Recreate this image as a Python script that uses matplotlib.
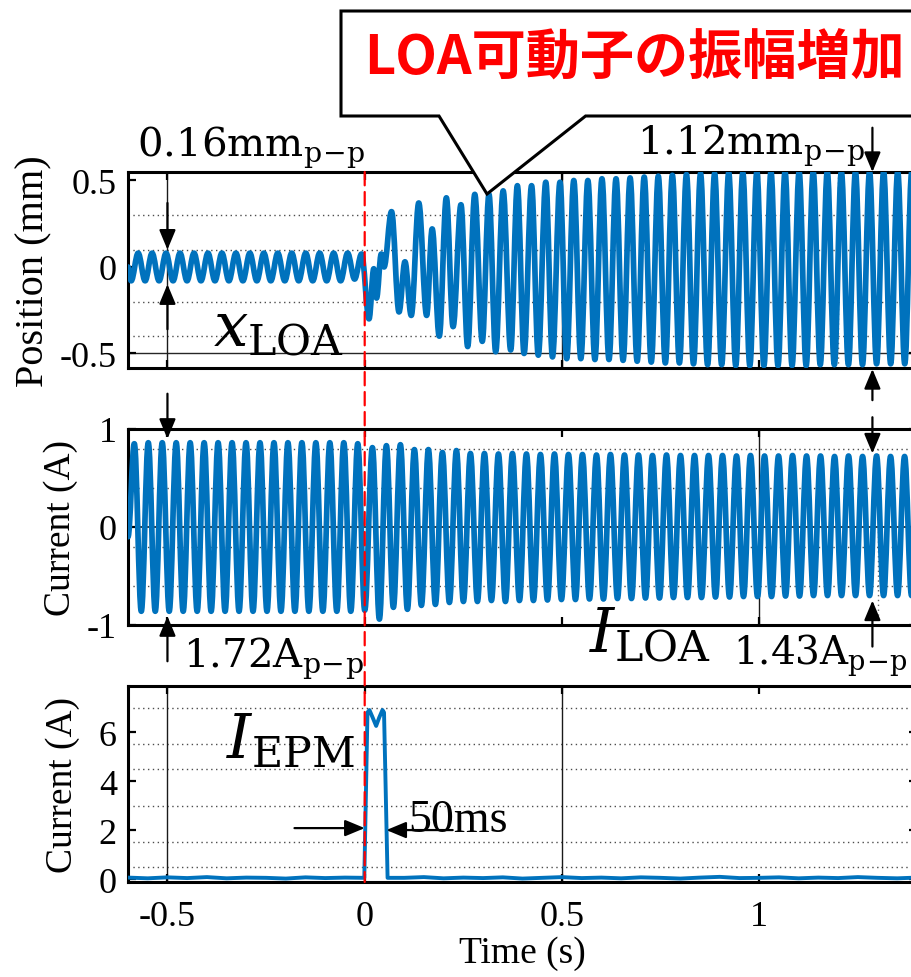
import numpy as np
import matplotlib
matplotlib.use('Agg')
import matplotlib.pyplot as plt
from matplotlib.patches import Polygon, ConnectionPatch, PathPatch
from matplotlib.path import Path

plt.rcParams['font.family'] = ['Liberation Serif', 'DejaVu Serif']
plt.rcParams['mathtext.fontset'] = 'dejavuserif'

# ---- values ----
# x_LOA (mm): successive extrema, before the EPM pulse
pos_start = (-0.6, 0.0)
pos_pre_t0 = -0.592
pos_pre_half = 0.0177
pos_pre_troughs = [-0.08, -0.08, -0.08, -0.08, -0.08, -0.08, -0.08, -0.08, -0.08,
                   -0.08, -0.08, -0.08, -0.08, -0.08, -0.08, -0.08, -0.07]
pos_pre_peaks = [0.08, 0.08, 0.08, 0.08, 0.08, 0.08, 0.08, 0.08, 0.08,
                 0.08, 0.08, 0.08, 0.08, 0.08, 0.08, 0.08, 0.075]
# transient after the pulse
pos_trans_t = [0.011, 0.023, 0.030, 0.042, 0.049, 0.068, 0.087, 0.102, 0.118, 0.137,
               0.157, 0.171, 0.189, 0.207, 0.224, 0.244, 0.261, 0.279, 0.298, 0.315,
               0.332, 0.351, 0.370, 0.387, 0.404, 0.423, 0.440, 0.459, 0.476, 0.495, 0.512]
pos_trans_v = [-0.30, -0.01, -0.18, 0.075, 0.0, 0.32, -0.26, 0.03, -0.28, 0.37,
               -0.28, 0.22, -0.40, 0.40, -0.345, 0.36, -0.46, 0.42, -0.43, 0.42,
               -0.49, 0.44, -0.48, 0.47, -0.50, 0.47, -0.51, 0.49, -0.52, 0.49, -0.53]
# steady growth afterwards
pos_post_t0 = 0.530
pos_post_half = 0.01785
pos_post_peaks = [0.50, 0.50, 0.51, 0.51, 0.515, 0.52, 0.525, 0.53, 0.535, 0.54,
                  0.54, 0.545, 0.545, 0.55, 0.55, 0.55, 0.55, 0.55, 0.55, 0.55,
                  0.55, 0.55, 0.55, 0.55, 0.55]
pos_post_troughs = [-0.53, -0.535, -0.535, -0.54, -0.545, -0.55, -0.555, -0.555, -0.56, -0.565,
                    -0.565, -0.57, -0.57, -0.57, -0.57, -0.57, -0.57, -0.565, -0.565, -0.565,
                    -0.565, -0.56, -0.56, -0.56, -0.56]

# I_LOA (A)
cur_start = (-0.6, -0.1)
cur_pre_t0 = -0.584
cur_pre_half = 0.0177
cur_pre_peaks = [0.85, 0.86, 0.86, 0.86, 0.86, 0.86, 0.86, 0.86, 0.86,
                 0.86, 0.86, 0.86, 0.86, 0.86, 0.86, 0.86, 0.85]
cur_pre_troughs = [-0.86, -0.86, -0.86, -0.86, -0.86, -0.86, -0.86, -0.86, -0.86,
                   -0.86, -0.86, -0.86, -0.86, -0.86, -0.86, -0.86, -0.85]
cur_post_t0 = 0.0195
cur_post_half = 0.01775
cur_post_peaks = [0.81, 0.83, 0.84, 0.79, 0.79, 0.76, 0.78, 0.75, 0.75, 0.745,
                  0.75, 0.745, 0.74, 0.745, 0.74, 0.74, 0.735, 0.74, 0.735, 0.735,
                  0.73, 0.735, 0.73, 0.73, 0.73, 0.73, 0.725, 0.73, 0.725, 0.725,
                  0.73, 0.725, 0.725, 0.72, 0.725, 0.72, 0.725, 0.72, 0.72]
cur_post_troughs = [-0.94, -0.82, -0.84, -0.80, -0.79, -0.77, -0.76, -0.76, -0.75, -0.76,
                    -0.75, -0.75, -0.745, -0.74, -0.74, -0.735, -0.735, -0.73, -0.73, -0.725,
                    -0.725, -0.72, -0.72, -0.72, -0.715, -0.715, -0.71, -0.71, -0.71, -0.705,
                    -0.705, -0.70, -0.70, -0.70, -0.70, -0.70, -0.70, -0.70, -0.70]

# I_EPM (A)
epm_pre_t = [-0.6, -0.55, -0.5, -0.45, -0.4, -0.35, -0.3, -0.25, -0.2, -0.15, -0.1, -0.05]
epm_pre_v = [0.06, 0.03, 0.07, 0.04, 0.08, 0.03, 0.06, 0.05, 0.02, 0.07, 0.04, 0.06]
epm_pulse_t = [-0.001, 0.007, 0.012, 0.020, 0.029, 0.037, 0.045, 0.049, 0.058]
epm_pulse_v = [0.05, 6.80, 6.90, 6.60, 6.25, 6.60, 6.90, 6.80, 0.05]
epm_post_t = [0.10, 0.15, 0.20, 0.25, 0.30, 0.35, 0.40, 0.45, 0.50, 0.55, 0.60, 0.65, 0.70, 0.75,
              0.80, 0.85, 0.90, 0.95, 1.00, 1.05, 1.10, 1.15, 1.20, 1.25, 1.30, 1.35, 1.40]
epm_post_v = [0.05, 0.08, 0.03, 0.06, 0.04, 0.07, 0.02, 0.05, 0.08, 0.04, 0.06, 0.03, 0.07, 0.05,
              0.02, 0.06, 0.09, 0.04, 0.05, 0.07, 0.03, 0.06, 0.04, 0.08, 0.05, 0.03, 0.06]


def zigzag(t0, half, first, second):
    vals = []
    for a, b in zip(first, second):
        vals += [a, b]
    return list(t0 + half * np.arange(len(vals))), vals


def wave_path(ts, vs, k=0.3634):
    # cubic Bezier between successive extrema, flat at each extremum
    verts = [(ts[0], vs[0])]
    codes = [Path.MOVETO]
    for i in range(1, len(ts)):
        d = (ts[i] - ts[i - 1]) * k
        verts += [(ts[i - 1] + d, vs[i - 1]), (ts[i] - d, vs[i]), (ts[i], vs[i])]
        codes += [Path.CURVE4] * 3
    return Path(verts, codes)


t_a, v_a = zigzag(pos_pre_t0, pos_pre_half, pos_pre_troughs, pos_pre_peaks)
t_b, v_b = zigzag(pos_post_t0, pos_post_half, pos_post_peaks, pos_post_troughs)
pos_t = [pos_start[0]] + t_a + pos_trans_t + t_b
pos_v = [pos_start[1]] + v_a + pos_trans_v + v_b

t_a, v_a = zigzag(cur_pre_t0, cur_pre_half, cur_pre_peaks, cur_pre_troughs)
t_b, v_b = zigzag(cur_post_t0, cur_post_half, cur_post_peaks, cur_post_troughs)
cur_t = [cur_start[0]] + t_a + t_b
cur_v = [cur_start[1]] + v_a + v_b

epm_t = epm_pre_t + epm_pulse_t + epm_post_t
epm_v = epm_pre_v + epm_pulse_v + epm_post_v

# ---- figure ----
W, H = 911, 978
fig = plt.figure(figsize=(W / 100, H / 100), dpi=100)


def fx(x):
    return x / W


def fy(y):
    return 1 - y / H


left, right = 128, 917
ax1 = fig.add_axes([fx(left), fy(369), fx(right - left), 196 / H])
ax2 = fig.add_axes([fx(left), fy(626), fx(right - left), 196 / H])
ax3 = fig.add_axes([fx(left), fy(883), fx(right - left), 196 / H])

blue = '#0072BD'
for ax, ts, vs in ((ax1, pos_t, pos_v), (ax2, cur_t, cur_v)):
    ax.add_patch(PathPatch(wave_path(ts, vs), fill=False, edgecolor=blue, lw=4.1,
                           joinstyle='round', capstyle='round', zorder=3))
ax3.plot(epm_t, epm_v, color=blue, lw=2.8, solid_joinstyle='round', zorder=3)

ax1.set_ylim(-0.584, 0.549)
ax2.set_ylim(-1, 1)
ax3.set_ylim(-0.12, 7.88)
ax1.set_yticks([-0.5, 0, 0.5])
ax1.set_yticklabels(['-0.5', '0', '0.5'])
ax2.set_yticks([-1, 0, 1])
ax2.set_yticklabels(['-1', '0', '1'])
ax3.set_yticks([0, 2, 4, 6])

dot = (0, (1, 2.5))
for v in [0.3, 0.1, -0.2, -0.4]:
    ax1.axhline(v, color='0.3', lw=1.0, ls=dot, zorder=1)
ax1.axhline(-0.5, color='0.15', lw=1.0, zorder=1)
for t in [-0.5, 0.5]:
    ax1.axvline(t, color='0.1', lw=1.0, zorder=1)
ax1.axvline(1.2, color='0.4', lw=1.0, ls=dot, zorder=1)

for v in [0.8, 0.4, -0.2, -0.6]:
    ax2.axhline(v, color='0.3', lw=1.0, ls=dot, zorder=1)
ax2.axhline(0, color='0.1', lw=1.2, zorder=1)
ax2.axvline(1.0, color='0.1', lw=1.0, zorder=1)
ax2.plot([1.3, 1.3], [-1, 0.8], color='0.4', lw=1.0, ls=dot, zorder=1)

for v in [7.0, 5.5, 4.5, 3.0, 1.5, 0.5]:
    ax3.axhline(v, color='0.3', lw=1.0, ls=dot, zorder=1)
for t in [-0.5, 0.5]:
    ax3.axvline(t, color='0.1', lw=1.0, zorder=1)

for ax in (ax1, ax2, ax3):
    ax.set_xlim(-0.6, 1.4)
    ax.set_xticks([-0.5, 0, 0.5, 1])
    ax.tick_params(direction='in', length=6, width=1.6, top=True, right=True,
                   labelsize=26, pad=8)
    for s in ax.spines.values():
        s.set_linewidth(2.2)
    ax.spines['right'].set_visible(False)
for ax in (ax1, ax2):
    ax.tick_params(labelbottom=False)
ax3.set_xticklabels(['-0.5', '0', '0.5', '1'])
ax3.tick_params(axis='x', pad=13)

ax1.set_ylabel('Position (mm)', fontsize=29)
ax2.set_ylabel('Current (A)', fontsize=27)
ax3.set_ylabel('Current (A)', fontsize=27)
ax1.yaxis.set_label_coords((52 - left) / (right - left), 0.5)
ax2.yaxis.set_label_coords((78 - left) / (right - left), 0.5)
ax3.yaxis.set_label_coords((80 - left) / (right - left), 0.5)
ax3.set_xlabel('Time (s)', fontsize=27)
ax3.xaxis.set_label_coords(0.5, (883 - 936) / 196)

# red dashed line at t = 0 across the three panels
con = ConnectionPatch(xyA=(0, 0.549), coordsA=ax1.transData,
                      xyB=(0, -0.12), coordsB=ax3.transData,
                      color='red', lw=1.6, ls=(0, (6, 3)), zorder=10)
fig.add_artist(con)


def arrow(ax, p_from, p_to):
    ax.annotate('', xy=p_to, xytext=p_from, xycoords='data', annotation_clip=False,
                arrowprops=dict(arrowstyle='-|>,head_length=0.6,head_width=0.25',
                                color='black', lw=1.6, mutation_scale=20,
                                shrinkA=0, shrinkB=0), zorder=6)


arrow(ax1, (-0.5, 0.37), (-0.5, 0.10))
arrow(ax1, (-0.5, -0.36), (-0.5, -0.10))
arrow(ax1, (1.287, 0.805), (1.287, 0.549))
arrow(ax1, (1.287, -0.77), (1.287, -0.59))
arrow(ax2, (-0.5, 1.36), (-0.5, 0.90))
arrow(ax2, (-0.5, -1.37), (-0.5, -0.91))
arrow(ax2, (1.287, 1.12), (1.287, 0.75))
arrow(ax2, (1.287, -1.22), (1.287, -0.75))
arrow(ax3, (-0.178, 2.08), (0.0, 2.08))
arrow(ax3, (0.223, 2.0), (0.055, 2.0))

# annotations
pp = r'_{\mathrm{p\!-\!p}}'
fig.text(fx(137), fy(157), r'$\mathrm{0.16mm}' + pp + '$', fontsize=29, ha='left', va='baseline')
fig.text(fx(637), fy(155), r'$\mathrm{1.12mm}' + pp + '$', fontsize=29, ha='left', va='baseline')
fig.text(fx(183), fy(668), r'$\mathrm{1.72A}' + pp + '$', fontsize=29, ha='left', va='baseline')
fig.text(fx(733), fy(665), r'$\mathrm{1.43A}' + pp + '$', fontsize=28, ha='left', va='baseline')
fig.text(fx(213), fy(347), r'$x_{\mathrm{LOA}}$', fontsize=44, ha='left', va='baseline')
fig.text(fx(589), fy(653), r'$I_{\mathrm{LOA}}$', fontsize=44, ha='left', va='baseline')
fig.text(fx(226), fy(758), r'$I_{\mathrm{EPM}}$', fontsize=44, ha='left', va='baseline')
fig.text(fx(408), fy(832), '50ms', fontsize=33, ha='left', va='baseline')

# callout
callout = [(341, 12), (930, 12), (930, 117), (585.6, 117), (487, 195), (439, 117), (341, 117)]
fig.add_artist(Polygon([(fx(x), fy(y)) for x, y in callout], closed=True,
                       transform=fig.transFigure, facecolor='white', edgecolor='black',
                       lw=2.2, zorder=20))
fig.text(fx(634), fy(59), 'LOA可動子の振幅増加', fontsize=39, color='#FF0000',
         family=['Noto Sans CJK JP', 'DejaVu Sans'], weight='bold',
         ha='center', va='center', zorder=21)

fig.savefig('out.png', dpi=100)
